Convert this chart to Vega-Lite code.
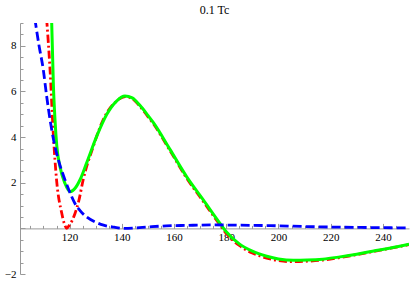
{
  "$schema": "https://vega.github.io/schema/vega-lite/v6.json",
  "autosize": "none",
  "width": 389,
  "height": 251,
  "padding": {"left": 20, "top": 23, "right": 8, "bottom": 7},
  "background": "white",
  "config": {"view": {"stroke": null}},
  "title": {"text": "0.1 Tc", "font": "Liberation Serif", "fontSize": 12, "fontWeight": "normal", "color": "black", "offset": 2, "dy": 11, "baseline": "alphabetic", "anchor": "middle"},
  "data": {"values": [
    {"x": 111.2, "y": 9.18, "s": "red"},
    {"x": 112.5, "y": 6.97, "s": "red"},
    {"x": 113.8, "y": 4.04, "s": "red"},
    {"x": 115.0, "y": 2.13, "s": "red"},
    {"x": 117.0, "y": 0.66, "s": "red"},
    {"x": 118.0, "y": 0.2, "s": "red"},
    {"x": 118.9, "y": 0.0, "s": "red"},
    {"x": 119.8, "y": 0.12, "s": "red"},
    {"x": 121.0, "y": 0.35, "s": "red"},
    {"x": 122.1, "y": 0.66, "s": "red"},
    {"x": 123.5, "y": 1.2, "s": "red"},
    {"x": 125.2, "y": 2.13, "s": "red"},
    {"x": 129.1, "y": 3.6, "s": "red"},
    {"x": 132.9, "y": 4.77, "s": "red"},
    {"x": 138.0, "y": 5.58, "s": "red"},
    {"x": 141.3, "y": 5.77, "s": "red"},
    {"x": 144.0, "y": 5.68, "s": "red"},
    {"x": 147.0, "y": 5.34, "s": "red"},
    {"x": 150.0, "y": 4.9, "s": "red"},
    {"x": 152.1, "y": 4.58, "s": "red"},
    {"x": 158.5, "y": 3.4, "s": "red"},
    {"x": 164.8, "y": 2.21, "s": "red"},
    {"x": 171.2, "y": 1.18, "s": "red"},
    {"x": 177.6, "y": 0.15, "s": "red"},
    {"x": 180.0, "y": -0.22, "s": "red"},
    {"x": 185.0, "y": -0.75, "s": "red"},
    {"x": 190.0, "y": -1.08, "s": "red"},
    {"x": 195.5, "y": -1.3, "s": "red"},
    {"x": 200.0, "y": -1.41, "s": "red"},
    {"x": 204.5, "y": -1.46, "s": "red"},
    {"x": 211.0, "y": -1.44, "s": "red"},
    {"x": 217.0, "y": -1.39, "s": "red"},
    {"x": 223.0, "y": -1.29, "s": "red"},
    {"x": 230.0, "y": -1.15, "s": "red"},
    {"x": 236.0, "y": -1.02, "s": "red"},
    {"x": 243.0, "y": -0.87, "s": "red"},
    {"x": 250.0, "y": -0.71, "s": "red"},

    {"x": 113.1, "y": 9.18, "s": "green"},
    {"x": 113.8, "y": 6.24, "s": "green"},
    {"x": 114.4, "y": 4.77, "s": "green"},
    {"x": 115.1, "y": 3.6, "s": "green"},
    {"x": 116.3, "y": 2.71, "s": "green"},
    {"x": 118.2, "y": 1.98, "s": "green"},
    {"x": 120.2, "y": 1.61, "s": "green"},
    {"x": 122.1, "y": 1.76, "s": "green"},
    {"x": 124.0, "y": 2.13, "s": "green"},
    {"x": 126.5, "y": 2.86, "s": "green"},
    {"x": 130.4, "y": 4.04, "s": "green"},
    {"x": 134.2, "y": 4.99, "s": "green"},
    {"x": 138.0, "y": 5.58, "s": "green"},
    {"x": 141.2, "y": 5.8, "s": "green"},
    {"x": 144.0, "y": 5.72, "s": "green"},
    {"x": 147.0, "y": 5.38, "s": "green"},
    {"x": 150.0, "y": 4.95, "s": "green"},
    {"x": 152.1, "y": 4.63, "s": "green"},
    {"x": 158.5, "y": 3.45, "s": "green"},
    {"x": 164.8, "y": 2.27, "s": "green"},
    {"x": 171.2, "y": 1.25, "s": "green"},
    {"x": 177.6, "y": 0.22, "s": "green"},
    {"x": 180.0, "y": -0.15, "s": "green"},
    {"x": 185.0, "y": -0.68, "s": "green"},
    {"x": 190.0, "y": -1.0, "s": "green"},
    {"x": 195.5, "y": -1.22, "s": "green"},
    {"x": 200.0, "y": -1.34, "s": "green"},
    {"x": 205.7, "y": -1.4, "s": "green"},
    {"x": 211.0, "y": -1.39, "s": "green"},
    {"x": 217.0, "y": -1.35, "s": "green"},
    {"x": 223.0, "y": -1.26, "s": "green"},
    {"x": 230.0, "y": -1.13, "s": "green"},
    {"x": 236.0, "y": -1.0, "s": "green"},
    {"x": 243.0, "y": -0.86, "s": "green"},
    {"x": 250.0, "y": -0.7, "s": "green"},

    {"x": 106.7, "y": 9.18, "s": "blue"},
    {"x": 108.3, "y": 8.0, "s": "blue"},
    {"x": 109.9, "y": 6.97, "s": "blue"},
    {"x": 111.2, "y": 5.8, "s": "blue"},
    {"x": 112.5, "y": 4.77, "s": "blue"},
    {"x": 114.0, "y": 3.8, "s": "blue"},
    {"x": 115.7, "y": 3.0, "s": "blue"},
    {"x": 118.0, "y": 2.2, "s": "blue"},
    {"x": 120.2, "y": 1.55, "s": "blue"},
    {"x": 122.0, "y": 1.1, "s": "blue"},
    {"x": 124.0, "y": 0.78, "s": "blue"},
    {"x": 126.5, "y": 0.5, "s": "blue"},
    {"x": 130.0, "y": 0.27, "s": "blue"},
    {"x": 133.0, "y": 0.14, "s": "blue"},
    {"x": 137.0, "y": 0.05, "s": "blue"},
    {"x": 141.0, "y": 0.0, "s": "blue"},
    {"x": 145.0, "y": 0.02, "s": "blue"},
    {"x": 150.0, "y": 0.06, "s": "blue"},
    {"x": 157.0, "y": 0.11, "s": "blue"},
    {"x": 165.0, "y": 0.13, "s": "blue"},
    {"x": 175.0, "y": 0.15, "s": "blue"},
    {"x": 185.0, "y": 0.14, "s": "blue"},
    {"x": 197.0, "y": 0.12, "s": "blue"},
    {"x": 210.0, "y": 0.08, "s": "blue"},
    {"x": 225.0, "y": 0.05, "s": "blue"},
    {"x": 240.0, "y": 0.03, "s": "blue"},
    {"x": 249.2, "y": 0.02, "s": "blue"}
  ]},
  "encoding": {
    "x": {
      "field": "x", "type": "quantitative",
      "scale": {"domain": [101, 250], "nice": false, "zero": false},
      "axis": {
        "title": null, "grid": false,
        "offset": -45.6,
        "values": [105,110,115,120,125,130,135,140,145,150,155,160,165,170,175,180,185,190,195,200,205,210,215,220,225,230,235,240,245],
        "labelExpr": "datum.value % 20 === 0 ? '' + datum.value : ''",
        "tickSize": {"condition": {"test": "datum.value % 20 === 0", "value": -5}, "value": -3},
        "tickColor": "#999999", "domainColor": "#999999",
        "labelFont": "Liberation Serif", "labelFontSize": 11, "labelColor": "black",
        "labelPadding": 8, "labelFlush": false, "labelOverlap": false
      }
    },
    "y": {
      "field": "y", "type": "quantitative",
      "scale": {"domain": [-2, 9], "nice": false, "zero": false},
      "axis": {
        "title": null, "grid": false,
        "values": [-2,-1.5,-1,-0.5,0,0.5,1,1.5,2,2.5,3,3.5,4,4.5,5,5.5,6,6.5,7,7.5,8,8.5,9],
        "labelExpr": "datum.value % 2 === 0 && datum.value !== 0 ? (datum.value < 0 ? '−' + abs(datum.value) : '' + datum.value) : ''",
        "tickSize": {"condition": {"test": "datum.value % 2 === 0", "value": -5}, "value": -3},
        "tickColor": "#999999", "domainColor": "#999999",
        "labelFont": "Liberation Serif", "labelFontSize": 11, "labelColor": "black",
        "labelPadding": 9, "labelFlush": false, "labelOverlap": false
      }
    }
  },
  "layer": [
    {
      "transform": [{"filter": "datum.s === 'red'"}],
      "mark": {"type": "line", "clip": true, "color": "#FF0000", "strokeWidth": 2.8, "strokeDash": [8, 3, 2, 3], "interpolate": "monotone"}
    },
    {
      "transform": [{"filter": "datum.s === 'green'"}],
      "mark": {"type": "line", "clip": true, "color": "#00FF00", "strokeWidth": 3, "interpolate": "monotone"}
    },
    {
      "transform": [{"filter": "datum.s === 'blue'"}],
      "mark": {"type": "line", "clip": true, "color": "#0000FF", "strokeWidth": 2.8, "strokeDash": [9, 4], "interpolate": "monotone"}
    }
  ]
}
